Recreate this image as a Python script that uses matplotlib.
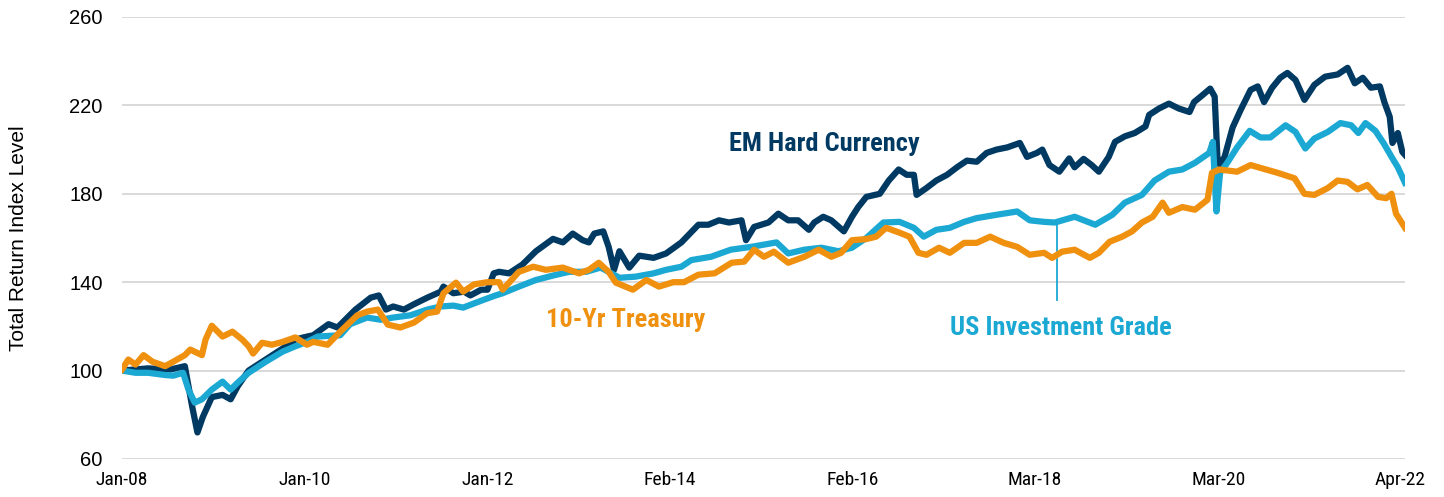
"""Total return index levels: EM hard currency vs US IG vs 10-yr Treasury (Jan-08 = 100)."""

import matplotlib
matplotlib.use("Agg")
import matplotlib.pyplot as plt  # noqa: E402
from matplotlib import font_manager  # noqa: E402

EM_C, IG_C, TSY_C = "#003a63", "#1ba8d3", "#f0900f"
GRID = "#d9d9d9"

# values, x as decimal year
em_year = [2008.00, 2008.29, 2008.54, 2008.70, 2008.78, 2008.84, 2008.90, 2009.00, 2009.12, 2009.21,
           2009.29, 2009.41, 2009.60, 2009.79, 2009.93, 2010.02, 2010.13, 2010.30, 2010.40, 2010.60,
           2010.77, 2010.86, 2010.94, 2011.02, 2011.14, 2011.25, 2011.40, 2011.55, 2011.58, 2011.69,
           2011.81, 2011.88, 2012.00, 2012.07, 2012.14, 2012.20, 2012.31, 2012.46, 2012.61, 2012.80,
           2012.91, 2013.02, 2013.13, 2013.20, 2013.26, 2013.36, 2013.42, 2013.48, 2013.54, 2013.65,
           2013.76, 2013.92, 2014.06, 2014.23, 2014.42, 2014.53, 2014.65, 2014.76, 2014.90, 2014.95,
           2015.04, 2015.20, 2015.31, 2015.42, 2015.53, 2015.65, 2015.71, 2015.81, 2015.90, 2016.04,
           2016.13, 2016.20, 2016.29, 2016.44, 2016.54, 2016.65, 2016.74, 2016.82, 2016.85, 2016.96,
           2017.07, 2017.19, 2017.30, 2017.41, 2017.52, 2017.63, 2017.74, 2017.86, 2018.00, 2018.08,
           2018.19, 2018.25, 2018.33, 2018.44, 2018.55, 2018.61, 2018.71, 2018.80, 2018.88, 2018.99,
           2019.06, 2019.17, 2019.28, 2019.40, 2019.44, 2019.55, 2019.66, 2019.77, 2019.89, 2019.94,
           2020.03, 2020.12, 2020.17, 2020.20, 2020.23, 2020.28, 2020.37, 2020.46, 2020.57, 2020.65,
           2020.72, 2020.81, 2020.90, 2020.98, 2021.07, 2021.17, 2021.28, 2021.40, 2021.54, 2021.65,
           2021.73, 2021.82, 2021.91, 2022.01, 2022.06, 2022.12, 2022.15, 2022.21, 2022.26, 2022.29]
em_val = [100, 101, 100.5, 102, 84, 72, 79, 88, 89, 87,
          93, 100, 105, 110, 114, 115, 116, 121, 119.5, 127.6,
          133, 134, 127.6, 129, 127.6, 130, 133, 135.7, 138, 135,
          135.7, 134, 136.6, 136.6, 144, 144.7, 144, 148, 154, 159.6,
          158, 162, 159, 158, 162, 163, 156, 145.6, 154, 146.6,
          152, 151, 153, 158, 166, 166, 168, 167, 168, 159,
          165, 167, 171, 168, 168, 163.7, 167, 169.6, 168, 163,
          169.6, 174, 178.6, 180, 186, 191, 188.6, 188.6, 179.5, 182.6,
          186, 188.6, 192, 195, 194.5, 198.5, 200, 201, 203, 196.7,
          198.5, 200, 193, 190, 196, 192, 195.8, 193, 190, 196.7,
          203.5, 206, 207.5, 210.5, 215.7, 218.6, 220.8, 218.6, 217, 221.5,
          224.5, 227.6, 224, 196.7, 193, 196.7, 210, 218, 227, 228.6,
          221.5, 228, 232.5, 234.7, 231.5, 222.5, 229.3, 233, 234, 237,
          230, 232.5, 228, 228.6, 221.5, 214.8, 203, 207.5, 199, 197.6]

ig_year = [2008.00, 2008.15, 2008.29, 2008.48, 2008.57, 2008.68, 2008.74, 2008.81, 2008.89, 2009.00,
           2009.12, 2009.21, 2009.29, 2009.41, 2009.60, 2009.79, 2009.93, 2010.06, 2010.18, 2010.43,
           2010.54, 2010.73, 2010.88, 2011.02, 2011.21, 2011.40, 2011.55, 2011.69, 2011.80, 2011.96,
           2012.16, 2012.24, 2012.42, 2012.61, 2012.80, 2012.98, 2013.17, 2013.33, 2013.42, 2013.54,
           2013.72, 2013.92, 2014.06, 2014.23, 2014.34, 2014.56, 2014.78, 2015.01, 2015.15, 2015.29,
           2015.42, 2015.60, 2015.79, 2015.98, 2016.13, 2016.29, 2016.48, 2016.66, 2016.82, 2016.93,
           2017.07, 2017.22, 2017.38, 2017.52, 2017.74, 2017.97, 2018.11, 2018.27, 2018.39, 2018.61,
           2018.84, 2019.03, 2019.17, 2019.36, 2019.50, 2019.66, 2019.81, 2019.95, 2020.11, 2020.15,
           2020.19, 2020.23, 2020.31, 2020.42, 2020.56, 2020.68, 2020.79, 2020.96, 2021.07, 2021.18,
           2021.28, 2021.43, 2021.57, 2021.69, 2021.77, 2021.85, 2021.96, 2022.05, 2022.14, 2022.21,
           2022.29]
ig_val = [100, 99, 99, 98, 97.7, 99, 91.4, 85.5, 87, 91.4,
          95, 91.4, 94.6, 99, 104, 108.6, 111, 113, 115.4, 116,
          121, 124, 123, 124, 125, 127.6, 129, 129.4, 128.5, 131,
          134, 135, 138, 141, 143, 144.7, 144.7, 146.6, 144.7, 142,
          142.5, 144, 145.6, 147, 150, 151.5, 154.7, 156, 157, 158,
          153, 154.7, 155.6, 154, 155.6, 160, 167, 167.3, 164.6, 160.6,
          163.7, 164.6, 167.3, 169, 170.5, 172, 168, 167.3, 167, 169.6,
          166, 170.5, 176, 179.5, 186, 190, 191, 194, 198.5, 203.5,
          172, 189.5, 194, 201, 208.5, 205.5, 205.5, 211, 208, 200.5,
          205, 208, 212, 211, 207.5, 212, 208.5, 203, 196.7, 192,
          185]

tsy_year = [2008.00, 2008.07, 2008.15, 2008.24, 2008.34, 2008.48, 2008.57, 2008.70, 2008.76, 2008.89,
            2008.93, 2009.00, 2009.12, 2009.23, 2009.34, 2009.41, 2009.46, 2009.56, 2009.67, 2009.79,
            2009.93, 2010.06, 2010.13, 2010.29, 2010.43, 2010.62, 2010.73, 2010.85, 2010.96, 2011.10,
            2011.25, 2011.40, 2011.51, 2011.58, 2011.72, 2011.80, 2011.92, 2012.07, 2012.20, 2012.24,
            2012.42, 2012.58, 2012.72, 2012.91, 2013.09, 2013.20, 2013.31, 2013.42, 2013.50, 2013.69,
            2013.84, 2013.98, 2014.14, 2014.26, 2014.42, 2014.60, 2014.79, 2014.93, 2015.04, 2015.15,
            2015.26, 2015.42, 2015.60, 2015.76, 2015.90, 2016.01, 2016.13, 2016.29, 2016.40, 2016.51,
            2016.66, 2016.77, 2016.87, 2016.96, 2017.10, 2017.22, 2017.38, 2017.52, 2017.67, 2017.82,
            2017.97, 2018.11, 2018.27, 2018.36, 2018.47, 2018.61, 2018.78, 2018.88, 2019.00, 2019.14,
            2019.25, 2019.36, 2019.48, 2019.59, 2019.66, 2019.81, 2019.95, 2020.09, 2020.14, 2020.22,
            2020.42, 2020.57, 2020.68, 2020.87, 2021.06, 2021.17, 2021.28, 2021.43, 2021.54, 2021.65,
            2021.76, 2021.87, 2021.99, 2022.08, 2022.14, 2022.19, 2022.29]
tsy_val = [100.5, 105, 102.7, 107, 104, 102, 104, 107, 109.5, 107,
           114, 120.3, 115.4, 117.6, 114, 111, 107.7, 112.6, 111.7, 113,
           115, 111.7, 113, 111.7, 117.6, 125, 126.7, 127.6, 120.8, 119.5,
           121.7, 126, 126.7, 135, 139.8, 135.7, 139, 140, 140, 136.6,
           144.7, 147, 145.6, 146.6, 144, 145.6, 148.8, 144.7, 139.8, 136.6,
           141, 138, 140, 140, 143.4, 144, 148.8, 149.3, 154.7, 151.5,
           153.8, 148.8, 151.5, 154.7, 151.5, 153.3, 159, 159.5, 160.6, 164.6,
           162.4, 160.6, 153.3, 152.4, 155.6, 153.3, 157.8, 157.8, 160.6, 157.8,
           156, 152.4, 153.3, 151, 153.8, 154.7, 151, 153.3, 158.3, 160.6,
           163, 167, 169.6, 176, 171.4, 174, 172.8, 177.3, 189.5, 191,
           190, 193, 191.7, 189.5, 187, 180, 179.5, 182.6, 186, 185.4,
           182, 184, 178.6, 178, 180, 171, 164.6]

tick_pos = [2008.00, 2010.03, 2012.07, 2014.10, 2016.14, 2018.17, 2020.21, 2022.24]
tick_lab = ["Jan-08", "Jan-10", "Jan-12", "Feb-14", "Feb-16", "Mar-18", "Mar-20", "Apr-22"]
y_ticks = [60, 100, 140, 180, 220, 260]

installed = {f.name for f in font_manager.fontManager.ttflist}
NARROW = "Liberation Sans Narrow" if "Liberation Sans Narrow" in installed else "Roboto Condensed" \
    if "Roboto Condensed" in installed else "DejaVu Sans"
plt.rcParams.update({"font.family": ["Liberation Sans", "DejaVu Sans"]})

fig = plt.figure(figsize=(14.44, 4.97), dpi=100)
ax = fig.add_axes([0.0845, 0.0765, 0.8885, 0.8893])

ax.plot(em_year, em_val, color=EM_C, lw=4.5, solid_joinstyle="round", zorder=3)
ax.plot(ig_year, ig_val, color=IG_C, lw=4.5, solid_joinstyle="round", zorder=4)
ax.plot(tsy_year, tsy_val, color=TSY_C, lw=4.5, solid_joinstyle="round", zorder=5)

# leader line for the IG label
ax.plot([2018.41, 2018.41], [132, 166], color=IG_C, lw=1.3, zorder=2)

lab = dict(fontsize=19, fontweight="bold", family=[NARROW, "DejaVu Sans"], va="center", ha="left")
ax.text(2014.76, 202.6, "EM Hard Currency", color=EM_C, **lab)
ax.text(2012.72, 123.0, "10-Yr Treasury", color=TSY_C, **lab)
ax.text(2017.22, 119.4, "US Investment Grade", color=IG_C, **lab)

ax.set_xlim(2008.0, 2022.29)
ax.set_ylim(60, 260)
ax.set_yticks(y_ticks)
ax.set_xticks(tick_pos)
ax.set_xticklabels(tick_lab, family=[NARROW, "DejaVu Sans"], fontsize=14)
ax.tick_params(axis="y", labelsize=14.5, length=0, pad=14)
ax.tick_params(axis="x", length=0, pad=9)
ax.grid(axis="y", color=GRID, lw=1.4)
ax.set_axisbelow(True)
for s in ax.spines.values():
    s.set_visible(False)
ax.set_ylabel("Total Return Index Level", fontsize=15)
ax.yaxis.set_label_coords(-0.073, 0.5)

fig.savefig("out.png", dpi=100)
